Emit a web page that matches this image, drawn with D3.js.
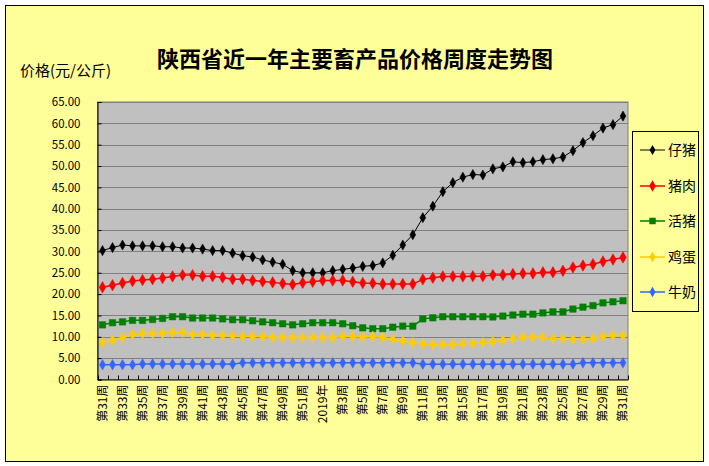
<!DOCTYPE html>
<html><head><meta charset="utf-8">
<script src="https://cdn.jsdelivr.net/npm/d3@7/dist/d3.min.js"></script>
<style>html,body{margin:0;padding:0;background:#fff;}svg{display:block;}</style>
</head><body>
<script>
const categories = ["第31周","第32周","第33周","第34周","第35周","第36周","第37周","第38周","第39周","第40周","第41周","第42周","第43周","第44周","第45周","第46周","第47周","第48周","第49周","第50周","第51周","第52周","2019年","第2周","第3周","第4周","第5周","第6周","第7周","第8周","第9周","第10周","第11周","第12周","第13周","第14周","第15周","第16周","第17周","第18周","第19周","第20周","第21周","第22周","第23周","第24周","第25周","第26周","第27周","第28周","第29周","第30周","第31周"];

const piglet = [30.2,30.9,31.5,31.3,31.3,31.3,31.1,31.1,30.8,30.8,30.55,30.2,30.2,29.6,29.0,28.7,28.0,27.5,27.0,25.5,25.0,25.0,25.0,25.5,25.8,26.1,26.5,26.7,27.3,29.1,31.5,33.9,37.9,40.6,44.0,46.1,47.4,48.0,47.9,49.35,49.8,51.0,50.8,51.0,51.5,51.7,52.1,53.6,55.5,57.1,58.9,59.7,61.7];
const pork = [21.6,22.1,22.6,23.05,23.3,23.5,23.75,24.15,24.45,24.45,24.2,24.2,23.9,23.5,23.5,23.2,22.95,22.75,22.5,22.25,22.65,22.9,23.2,23.2,23.2,22.9,22.6,22.55,22.35,22.35,22.35,22.35,23.45,23.85,24.15,24.15,24.15,24.2,24.2,24.45,24.5,24.7,24.85,24.85,25.1,25.1,25.45,26.25,26.7,27.0,27.65,28.1,28.6];
const livePig = [12.8,13.3,13.5,13.85,13.85,14.05,14.3,14.7,14.7,14.4,14.4,14.4,14.2,14.0,14.0,13.75,13.5,13.3,13.05,12.8,13.05,13.3,13.3,13.3,13.05,12.6,12.1,11.9,11.9,12.25,12.5,12.5,14.2,14.45,14.7,14.7,14.7,14.7,14.7,14.65,14.85,15.1,15.3,15.3,15.6,15.85,15.85,16.5,16.95,17.3,17.95,18.2,18.45];
const eggs = [8.65,9.2,9.85,10.55,10.8,10.8,10.8,11.0,11.0,10.55,10.55,10.3,10.3,10.25,10.1,10.1,10.1,9.85,9.85,9.85,9.85,9.85,9.85,9.85,10.1,10.1,9.95,10.1,9.85,9.45,9.0,8.65,8.3,8.2,8.2,8.2,8.45,8.45,8.65,8.9,9.2,9.6,9.9,9.9,9.9,9.6,9.6,9.4,9.4,9.6,10.1,10.3,10.3];
const milk = [3.45,3.45,3.45,3.45,3.65,3.65,3.65,3.65,3.65,3.65,3.65,3.65,3.65,3.6,3.9,3.9,3.9,3.9,3.9,3.9,3.9,3.9,3.9,3.9,3.9,3.9,3.9,3.9,3.9,3.9,3.9,3.9,3.6,3.6,3.6,3.6,3.6,3.6,3.6,3.6,3.6,3.6,3.6,3.6,3.6,3.6,3.6,3.6,3.9,3.9,3.9,3.9,3.9];

const seriesNames = ["仔猪","猪肉","活猪","鸡蛋","牛奶"];
const yTicks = [0,5,10,15,20,25,30,35,40,45,50,55,60,65];
const titleText = "陕西省近一年主要畜产品价格周度走势图";
const yTitle = "价格(元/公斤)";

const series = [
  {name: seriesNames[0], values: piglet, color: "#000000", shape: "diamond", lw: 1, ms: 30},
  {name: seriesNames[1], values: pork, color: "#FF0000", shape: "diamond", lw: 1.5, ms: 38},
  {name: seriesNames[2], values: livePig, color: "#008000", shape: "square", lw: 1.5, ms: 42},
  {name: seriesNames[3], values: eggs, color: "#FFCC00", shape: "diamond", lw: 1.5, ms: 32},
  {name: seriesNames[4], values: milk, color: "#3366FF", shape: "diamond", lw: 1.5, ms: 32}
];

const W = 709, H = 466;
const font = "'Noto Sans CJK SC', 'DejaVu Sans', sans-serif";
const svg = d3.select("body").append("svg").attr("width", W).attr("height", H);

svg.append("rect").attr("x",0).attr("y",0).attr("width",W).attr("height",H).attr("fill","#FFFFFF");
svg.append("rect").attr("x",5.5).attr("y",5.5).attr("width",698).attr("height",456)
  .attr("fill","#FFFF99").attr("stroke","#000").attr("stroke-width",1);

const plot = {x0: 97.5, x1: 628, y0: 102, y1: 379.5};
const x = d3.scaleBand().domain(categories.map((c,i)=>i)).range([plot.x0, plot.x1]).padding(0);
const y = d3.scaleLinear().domain([0,65]).range([plot.y1, plot.y0]);
const cx = i => x(i) + x.bandwidth()/2;

svg.append("rect").attr("x",plot.x0).attr("y",plot.y0).attr("width",plot.x1-plot.x0).attr("height",plot.y1-plot.y0)
  .attr("fill","#C0C0C0").attr("stroke","#808080").attr("stroke-width",1);

// gridlines
svg.append("g").selectAll("line").data(yTicks.filter(t=>t>0)).join("line")
  .attr("x1",plot.x0).attr("x2",plot.x1)
  .attr("y1",d=>Math.round(y(d))+0.5).attr("y2",d=>Math.round(y(d))+0.5)
  .attr("stroke","#808080").attr("stroke-width",1);

// y axis
const yAxis = d3.axisLeft(y).tickValues(yTicks).tickFormat(d3.format(".2f")).tickSize(-4).tickPadding(17);
const gy = svg.append("g").attr("transform",`translate(${plot.x0},0)`).call(yAxis);
gy.select(".domain").attr("stroke","#000");
gy.selectAll(".tick line").attr("stroke","#000");
gy.selectAll(".tick text").attr("font-family",font).attr("font-size",11.5).attr("fill","#000");

// x axis
const xAxis = d3.axisBottom(x).tickValues([]).tickSize(0);
const gx = svg.append("g").attr("transform",`translate(0,${plot.y1})`).call(xAxis);
gx.select(".domain").attr("stroke","#000");
svg.append("g").selectAll("line").data(d3.range(categories.length+1)).join("line")
  .attr("x1",i=>Math.round(plot.x0 + i*x.bandwidth())+0.5).attr("x2",i=>Math.round(plot.x0 + i*x.bandwidth())+0.5)
  .attr("y1",plot.y1).attr("y2",plot.y1-4).attr("stroke","#000");

// x labels
svg.append("g").selectAll("text").data(categories.map((c,i)=>({c,i})).filter(d=>d.i%2===0)).join("text")
  .attr("transform",d=>`translate(${cx(d.i)+4},${plot.y1+5}) rotate(-90)`)
  .attr("text-anchor","end").attr("font-family",font).attr("font-size",12).attr("fill","#000")
  .text(d=>d.c);

// lines and markers
const line = d3.line().x((d,i)=>cx(i)).y(d=>y(d));
series.forEach(s=>{
  svg.append("path").datum(s.values).attr("d",line).attr("fill","none")
    .attr("stroke",s.color).attr("stroke-width",s.lw);
  const sym = d3.symbol().type(s.shape==="square" ? d3.symbolSquare : d3.symbolDiamond).size(s.ms);
  svg.append("g").selectAll("path").data(s.values).join("path")
    .attr("transform",(d,i)=>`translate(${cx(i)},${y(d)})`)
    .attr("d",sym()).attr("fill",s.color).attr("stroke",s.color).attr("stroke-width",0.5);
});

// title
svg.append("text").attr("x",355).attr("y",67).attr("text-anchor","middle")
  .attr("font-family",font).attr("font-size",22).attr("font-weight","bold").attr("fill","#000").text(titleText);
svg.append("text").attr("x",20).attr("y",76)
  .attr("font-family",font).attr("font-size",15).attr("fill","#000").text(yTitle);

// legend
const lg = svg.append("g");
lg.append("rect").attr("x",632.5).attr("y",131.5).attr("width",66).attr("height",180)
  .attr("fill","#FFFF99").attr("stroke","#000").attr("stroke-width",1);
const ly = [150, 186, 221, 257, 292];
series.forEach((s,k)=>{
  lg.append("line").attr("x1",640).attr("x2",665).attr("y1",ly[k]).attr("y2",ly[k])
    .attr("stroke",s.color).attr("stroke-width",s.lw);
  const sym = d3.symbol().type(s.shape==="square" ? d3.symbolSquare : d3.symbolDiamond).size(s.ms);
  lg.append("path").attr("transform",`translate(652.5,${ly[k]})`).attr("d",sym()).attr("fill",s.color);
  lg.append("text").attr("x",668).attr("y",ly[k]).attr("dy","0.36em")
    .attr("font-family",font).attr("font-size",14).attr("fill","#000").text(s.name);
});
</script>
</body></html>
